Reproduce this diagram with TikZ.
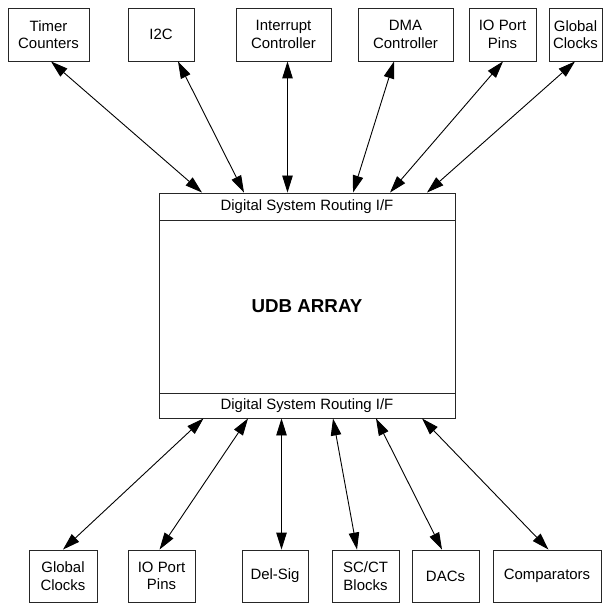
\documentclass[tikz,border=0pt]{standalone}
\usepackage{fontspec}
\setmainfont{Liberation Sans}
\usetikzlibrary{arrows.meta}
\begin{document}
\begin{tikzpicture}[x=1bp,y=-1bp,
  box/.style={draw=black!85, line width=0.9bp, align=center, inner sep=0pt,
    font=\fontsize{15}{17.5}\selectfont, text=black},
  bi/.style={line width=0.9bp, {Triangle[length=17bp,width=10.5bp]}-{Triangle[length=17bp,width=10.5bp]}}]
\useasboundingbox (0,0) rectangle (614,604);
% top boxes
\node[box, minimum width=81bp, minimum height=53bp] (tc) at (48.5,34.5) {Timer\\Counters};
\node[box, minimum width=66bp, minimum height=53bp] (i2c) at (161,34.5) {I2C};
\node[box, minimum width=95bp, minimum height=53bp] (ic) at (283.5,34.5) {Interrupt\\Controller};
\node[box, minimum width=95bp, minimum height=53bp] (dma) at (405.5,34.5) {DMA\\Controller};
\node[box, minimum width=67bp, minimum height=53bp] (iot) at (502.5,34.5) {IO Port\\Pins};
\node[box, minimum width=53bp, minimum height=53bp] (gct) at (575.5,34.5) {Global\\Clocks};
% main block
\node[box, minimum width=296bp, minimum height=27bp] (rt) at (307,206.5) {Digital System Routing I/F};
\node[box, minimum width=296bp, minimum height=173bp, font=\bfseries\fontsize{18.8}{22}\selectfont] (udb) at (307,306.5) {UDB ARRAY};
\node[box, minimum width=296bp, minimum height=25bp] (rb) at (307,405.5) {Digital System Routing I/F};
% bottom boxes
\node[box, minimum width=68bp, minimum height=52bp] (gcb) at (63,576) {Global\\Clocks};
\node[box, minimum width=67bp, minimum height=52bp] (iob) at (161.5,576) {IO Port\\Pins};
\node[box, minimum width=66bp, minimum height=52bp] (ds) at (275,576) {Del-Sig};
\node[box, minimum width=67bp, minimum height=52bp] (sc) at (365.5,576) {SC/CT\\Blocks};
\node[box, minimum width=67bp, minimum height=52bp] (dac) at (445.5,576) {DACs};
\node[box, minimum width=108bp, minimum height=52bp] (cmp) at (547,576) {Comparators};
% top connectors
\draw[bi] ([xshift=2.5bp]tc.south) -- ([xshift=-105bp]rt.north);
\draw[bi] ([xshift=17bp]i2c.south) -- ([xshift=-63bp]rt.north);
\draw[bi] ([xshift=4bp]ic.south) -- ([xshift=-19.5bp]rt.north);
\draw[bi] ([xshift=-11.5bp]dma.south) -- ([xshift=46bp]rt.north);
\draw[bi] ([xshift=0.5bp]iot.south) -- ([xshift=83bp]rt.north);
\draw[bi] ([xshift=-0.5bp]gct.south) -- ([xshift=120bp]rt.north);
% bottom connectors
\draw[bi] ([xshift=-103.5bp]rb.south) -- (gcb.north);
\draw[bi] ([xshift=-59bp]rb.south) -- ([xshift=-2bp]iob.north);
\draw[bi] ([xshift=-25.5bp]rb.south) -- ([xshift=6.5bp]ds.north);
\draw[bi] ([xshift=26bp]rb.south) -- ([xshift=-8.5bp]sc.north);
\draw[bi] ([xshift=69bp]rb.south) -- ([xshift=-3.5bp]dac.north);
\draw[bi] ([xshift=115bp]rb.south) -- ([xshift=1.5bp]cmp.north);
\end{tikzpicture}
\end{document}
